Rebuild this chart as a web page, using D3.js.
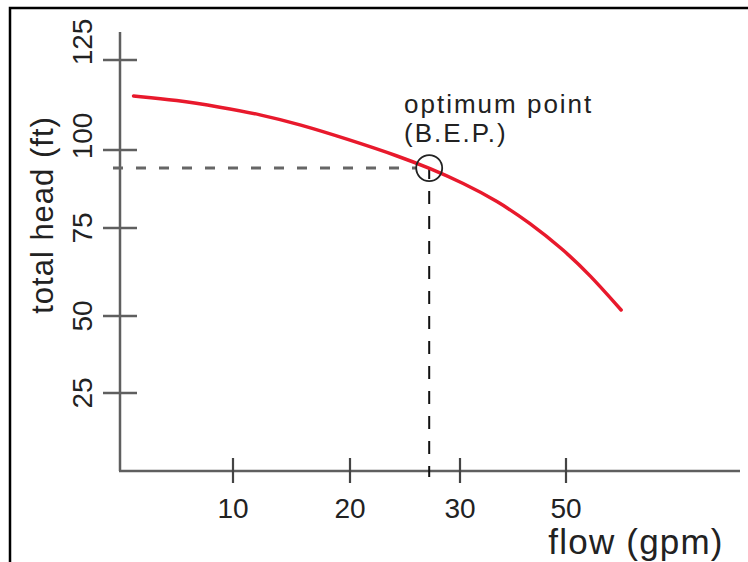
<!DOCTYPE html>
<html>
<head>
<meta charset="utf-8">
<script src="https://cdn.jsdelivr.net/npm/d3@7"></script>
<style>
  html, body { margin: 0; padding: 0; background: #fff; }
  svg { display: block; }
  text { font-family: "Liberation Sans", Arial, Helvetica, sans-serif; fill: #222; }
</style>
</head>
<body>
<div id="chart"></div>
<script>
// ---- data ----
const flowTicks = [10, 20, 30, 50];          // x-axis tick labels (gpm)
const headTicks = [25, 50, 75, 100, 125];    // y-axis tick labels (ft)
const flow = [1.2, 5.0, 8.9, 12.3, 15.7, 19.7, 24.6, 27.2, 30.6, 37.0, 43.2, 49.4, 54.5, 60.4];
const head = [115.0, 113.9, 111.9, 109.9, 107.1, 103.1, 97.8, 94.2, 89.4, 83.7, 76.6, 69.0, 61.7, 51.7];
const bepFlow = 27.2;
const bepHead = 94.2;
const xTitle = "flow (gpm)";
const yTitle = "total head (ft)";
const noteLines = ["optimum point", "(B.E.P.)"];

// ---- layout ----
const W = 748, H = 562;
const svg = d3.select("#chart").append("svg").attr("width", W).attr("height", H);
svg.append("rect").attr("width", W).attr("height", H).attr("fill", "#fff");

// hand-drawn sketch: tick spacing is uneven, so piecewise-linear scales
const x = d3.scaleLinear().domain([0, 10, 20, 30, 50]).range([120, 233, 350, 460, 566]);
const y = d3.scaleLinear().domain([0, 25, 50, 75, 100, 125]).range([471, 393, 316, 228, 150, 60]);

// frame (left + top visible)
svg.append("path").attr("d", "M10,562 L10,8 L748,8")
  .attr("fill", "none").attr("stroke", "#000").attr("stroke-width", 2.5);

const axisCol = "#5f5f5f";
// y axis
svg.append("line").attr("x1", x(0)).attr("x2", x(0)).attr("y1", 32).attr("y2", y(0))
  .attr("stroke", axisCol).attr("stroke-width", 2.5);
// x axis
svg.append("line").attr("x1", x(0) - 1).attr("x2", 740).attr("y1", y(0)).attr("y2", y(0))
  .attr("stroke", axisCol).attr("stroke-width", 2.5);

// y ticks
svg.selectAll(".ytick").data(headTicks).join("line")
  .attr("x1", x(0) - 17).attr("x2", x(0) + 17)
  .attr("y1", d => y(d)).attr("y2", d => y(d))
  .attr("stroke", axisCol).attr("stroke-width", 2.5);
const yLabelNudge = {125: -18, 100: -14};
svg.selectAll(".ylab").data(headTicks).join("text")
  .attr("transform", d => `translate(92,${y(d) + (yLabelNudge[d] || 0)}) rotate(-90)`)
  .attr("text-anchor", "middle")
  .attr("font-size", 28)
  .text(d => d);

// x ticks
svg.selectAll(".xtick").data(flowTicks).join("line")
  .attr("x1", d => x(d)).attr("x2", d => x(d))
  .attr("y1", y(0) - 13).attr("y2", y(0) + 12)
  .attr("stroke", "#444").attr("stroke-width", 2.2);
svg.selectAll(".xlab").data(flowTicks).join("text")
  .attr("x", d => x(d)).attr("y", 518)
  .attr("text-anchor", "middle")
  .attr("font-size", 28)
  .text(d => d);

// axis titles
svg.append("text")
  .attr("transform", "translate(53,215) rotate(-90)")
  .attr("text-anchor", "middle")
  .attr("font-size", 31)
  .attr("letter-spacing", 1)
  .text(yTitle);
svg.append("text")
  .attr("x", 636).attr("y", 554)
  .attr("text-anchor", "middle")
  .attr("font-size", 35)
  .attr("letter-spacing", 1.2)
  .text(xTitle);

// BEP dashed guides
const bx = x(bepFlow), by = y(bepHead), r = 13;
svg.append("line").attr("x1", 113).attr("x2", bx - r).attr("y1", by).attr("y2", by)
  .attr("stroke", "#666").attr("stroke-width", 3).attr("stroke-dasharray", "10,13");
svg.append("line").attr("x1", bx).attr("x2", bx).attr("y1", by).attr("y2", y(0) + 6)
  .attr("stroke", "#111").attr("stroke-width", 2).attr("stroke-dasharray", "13,12")
  .attr("stroke-dashoffset", 2);

// pump curve
const line = d3.line().x(d => x(d[0])).y(d => y(d[1])).curve(d3.curveBasis);
svg.append("path")
  .datum(flow.map((f, i) => [f, head[i]]))
  .attr("d", line)
  .attr("fill", "none")
  .attr("stroke", "#e8192c")
  .attr("stroke-width", 3.5)
  .attr("stroke-linecap", "round");

// BEP circle
svg.append("circle").attr("cx", bx).attr("cy", by).attr("r", r)
  .attr("fill", "none").attr("stroke", "#222").attr("stroke-width", 1.8);

// annotation
svg.selectAll(".note").data(noteLines).join("text")
  .attr("x", 404).attr("y", (d, i) => 113 + i * 29)
  .attr("font-size", 26)
  .attr("letter-spacing", 2)
  .text(d => d);
</script>
</body>
</html>
